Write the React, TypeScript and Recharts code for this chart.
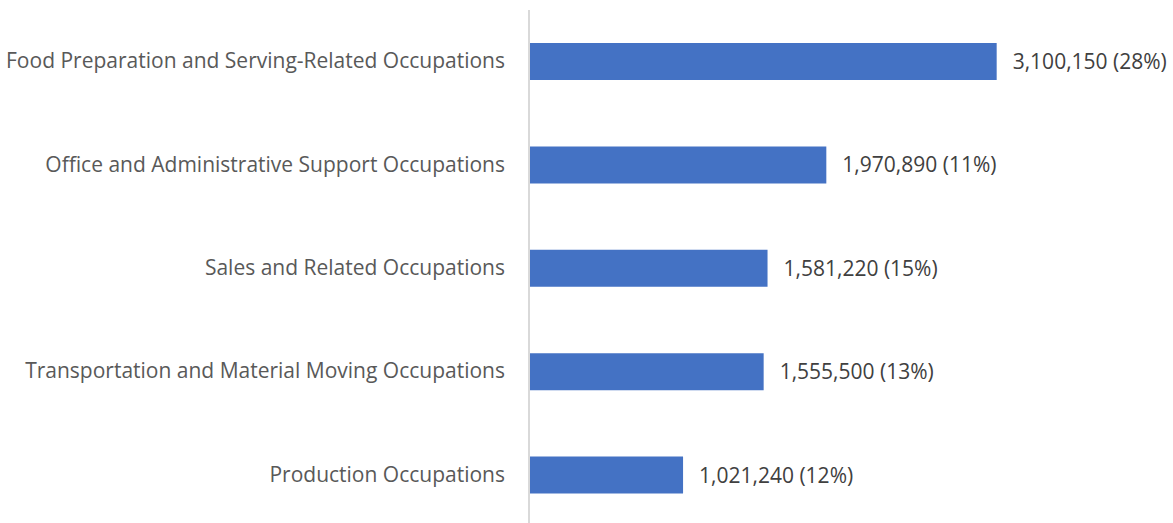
import React from "react";
import { BarChart, Bar, XAxis, YAxis, LabelList } from "recharts";

const categories = [
  "Food Preparation and Serving-Related Occupations",
  "Office and Administrative Support Occupations",
  "Sales and Related Occupations",
  "Transportation and Material Moving Occupations",
  "Production Occupations",
];
const employment = [3100150, 1970890, 1581220, 1555500, 1021240];
const shares = ["28%", "11%", "15%", "13%", "12%"];

const data = categories.map((name, i) => ({
  name,
  value: employment[i],
  label: `${employment[i].toLocaleString("en-US")} (${shares[i]})`,
}));

const FONT = "'Open Sans', 'Liberation Sans', sans-serif";

const App: React.FC = () => {
  return (
    <div
      style={{
        position: "absolute",
        top: 0,
        left: 0,
        width: 1173,
        height: 523,
        overflow: "hidden",
        background: "#fff",
      }}
    >
      <BarChart
        width={1173}
        height={540}
        data={data}
        layout="vertical"
        barCategoryGap={33}
        margin={{ top: 10, right: 116, bottom: 13, left: 0 }}
      >
        <XAxis type="number" domain={[0, 3500000]} hide />
        <YAxis
          type="category"
          dataKey="name"
          width={529}
          tickLine={false}
          tickSize={0}
          tickMargin={24}
          axisLine={{ stroke: "#d9d9d9", strokeWidth: 2 }}
          tick={{ fill: "#595959", fontSize: 21, fontFamily: FONT, dy: -1 }}
        />
        <Bar dataKey="value" fill="#4472c4" isAnimationActive={false}>
          <LabelList
            dataKey="label"
            position="right"
            offset={16}
            fill="#404040"
            fontSize={21}
            fontFamily={FONT}
          />
        </Bar>
      </BarChart>
    </div>
  );
};

export default App;
